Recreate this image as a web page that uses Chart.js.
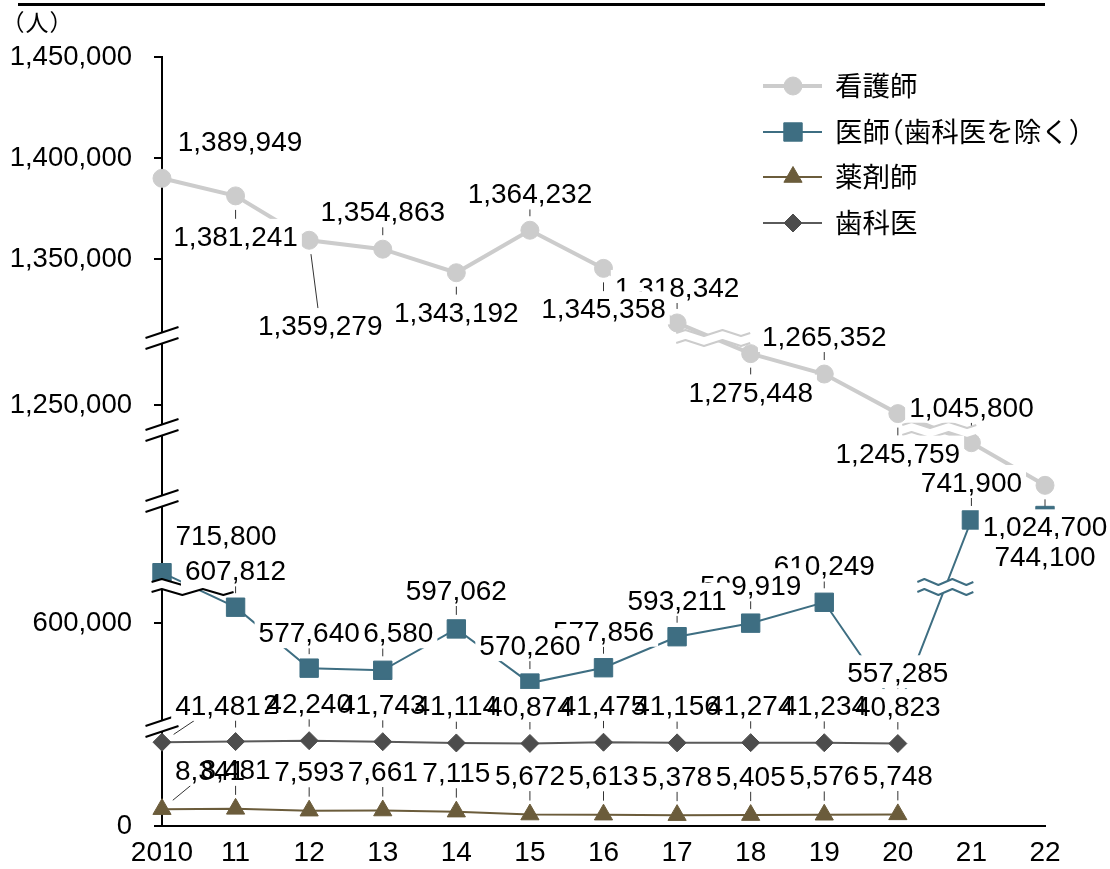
<!DOCTYPE html>
<html lang="ja">
<head>
<meta charset="utf-8">
<title>看護師・医師・薬剤師・歯科医の推移</title>
<script src="https://cdn.jsdelivr.net/npm/chart.js@4.4.1/dist/chart.umd.min.js"></script>
<style>
  html, body { margin: 0; padding: 0; background: #ffffff; }
  #frame { position: relative; width: 1110px; height: 869px; }
  canvas { display: block; }
</style>
</head>
<body>
<div id="frame"><canvas id="chart" width="1110" height="869"></canvas></div>
<script>
// ---------- data ----------
const years = ['2010', '11', '12', '13', '14', '15', '16', '17', '18', '19', '20', '21', '22'];
const seriesNames = ['看護師', '医師（歯科医を除く）', '薬剤師', '歯科医'];
const nurses      = [1389949, 1381241, 1359279, 1354863, 1343192, 1364232, 1345358, 1318342, 1275448, 1265352, 1245759, 1045800, 1024700];
const physicians  = [715800, 607812, 577640, 576580, 597062, 570260, 577856, 593211, 599919, 610249, 557285, 741900, 744100];
const pharmacists = [8341, 8481, 7593, 7661, 7115, 5672, 5613, 5378, 5405, 5576, 5748, null, null];
const dentists    = [41481, 41812, 42240, 41743, 41114, 40874, 41475, 41156, 41274, 41234, 40823, null, null];
const yTickValues = [0, 600000, 1250000, 1350000, 1400000, 1450000];

// value ranges kept on the broken y axis (everything between them is cut out)
const axisSegments = [
  [0, 49500],
  [549000, 617800],
  [708700, 751300],
  [1016950, 1052090],
  [1237640, 1283180],
  [1310880, 1450000]
];

// ---------- styling / layout ----------
const NUM_FONT = '"Liberation Sans", Arial, Helvetica, sans-serif';
const CJK_FONT = '"Noto Sans CJK JP", "Noto Sans CJK SC", sans-serif';
const fmt = v => v.toLocaleString('en-US');

const seriesStyle = [
  { color: '#cccccc', lineColor: '#cccccc', lineWidth: 4, pointStyle: 'circle',   radius: 9 },
  { color: '#3e6e82', lineColor: '#3e6e82', lineWidth: 2, pointStyle: 'rect',     radius: 13 },
  { color: '#6b5c3b', lineColor: '#6b5c3b', lineWidth: 2, pointStyle: 'triangle', radius: 10.5 },
  { color: '#4d4d4d', lineColor: '#5a5a5a', lineWidth: 2, pointStyle: 'rectRot',  radius: 9 }
];

function filled(n, v) { return Array.from({ length: n }, () => v); }
function withFirst(arr, v) { const a = arr.slice(); a[0] = v; return a; }

// data-label offsets (label centre relative to the point), leader-line switches,
// and how overlapping labels of one series are painted
const labelPlacement = [
  { dx: (() => { const a = filled(13, 0); a[0] = 78; a[2] = 11; return a; })(),
    dy: [-37, 40, 85, -38, 39, -37, 40, -36, 38, -38, 39, -36, 41],
    leader: withFirst(filled(13, true), false), mode: 'stacked', front: [] },
  { dx: withFirst(filled(13, 0), 64),
    dy: [-38, -37, -36, -38, -39, -38, -37, -37, -38, -37, -37, -38, 40.5],
    leader: withFirst(filled(13, true), false), mode: 'stacked', front: [] },
  { dx: withFirst(filled(13, 0), 48), dy: filled(13, -39.5),
    leader: filled(13, true), mode: 'overprint', front: [] },
  { dx: withFirst(filled(13, 0), 56), dy: filled(13, -37.5),
    leader: filled(13, true), mode: 'overprint', front: [0] }
];

// wavy cut marks drawn across lines that jump over an axis break
const lineBreaks = [
  { series: 0, from: 7,  boundary: 5, color: '#cccccc', half: 37 },
  { series: 0, from: 10, boundary: 4, color: '#cccccc', half: 37 },
  { series: 1, from: 10, boundary: 2, color: '#3e6e82', half: 28 },
  { series: 1, from: 0,  boundary: 2, color: '#000000', half: 41 }
];
// double-slash cut marks on the y axis
const axisBreaks = [1, 3, 4, 5];

const legendRows = [86, 132, 177, 223];

// ---------- broken linear scale ----------
class BrokenLinearScale extends Chart.LinearScale {
  static id = 'brokenLinear';
  static defaults = Chart.LinearScale.defaults;

  toAxisUnits(v) {
    let acc = 0;
    for (let i = 0; i < axisSegments.length; i++) {
      const [a, b] = axisSegments[i];
      if (v <= b || i === axisSegments.length - 1) return acc + Math.max(0, v - a);
      acc += b - a;
    }
    return acc;
  }
  axisLength() { return this.toAxisUnits(this.max) - this.toAxisUnits(this.min); }
  getPixelForValue(v) {
    if (v === null || v === undefined || isNaN(v)) return NaN;
    return this.getPixelForDecimal((this.toAxisUnits(v) - this.toAxisUnits(this.min)) / this.axisLength());
  }
  getValueForPixel(pixel) {
    let u = this.getDecimalForPixel(pixel) * this.axisLength() + this.toAxisUnits(this.min);
    for (const [a, b] of axisSegments) {
      if (u <= b - a) return a + u;
      u -= b - a;
    }
    return axisSegments[axisSegments.length - 1][1] + u;
  }
  getPixelForBreak(i) {
    let acc = 0;
    for (let k = 0; k < i; k++) acc += axisSegments[k][1] - axisSegments[k][0];
    return this.getPixelForDecimal(acc / this.axisLength());
  }
}
Chart.register(BrokenLinearScale);

// ---------- drawing helpers ----------
function zigzag(x0, x1, y, amp, n) {
  const pattern = [0, -1, 0, 1];
  const pts = [];
  for (let k = 0; k <= n; k++) pts.push([x0 + (x1 - x0) * k / n, y + amp * pattern[k % 4]]);
  return pts;
}

function drawLineBreak(ctx, xc, yc, half, color) {
  const up = zigzag(xc - half, xc + half, yc - 5, 3, 8);
  const lo = zigzag(xc - half, xc + half, yc + 5, 3, 8);
  ctx.save();
  ctx.beginPath();
  up.forEach(([x, y], i) => i ? ctx.lineTo(x, y) : ctx.moveTo(x, y));
  lo.slice().reverse().forEach(([x, y]) => ctx.lineTo(x, y));
  ctx.closePath();
  ctx.fillStyle = '#ffffff';
  ctx.fill();
  ctx.strokeStyle = color;
  ctx.lineWidth = 2;
  ctx.lineJoin = 'round';
  [up, lo].forEach(pts => {
    ctx.beginPath();
    pts.forEach(([x, y], i) => i ? ctx.lineTo(x, y) : ctx.moveTo(x, y));
    ctx.stroke();
  });
  ctx.restore();
}

function drawAxisSlash(ctx, x, yc) {
  const half = 16.5, tilt = 5.5, gap = 5.5;
  ctx.save();
  ctx.beginPath();
  ctx.moveTo(x - half, yc - gap + tilt);
  ctx.lineTo(x + half, yc - gap - tilt);
  ctx.lineTo(x + half, yc + gap - tilt);
  ctx.lineTo(x - half, yc + gap + tilt);
  ctx.closePath();
  ctx.fillStyle = '#ffffff';
  ctx.fill();
  ctx.strokeStyle = '#000000';
  ctx.lineWidth = 2;
  [-gap, gap].forEach(off => {
    ctx.beginPath();
    ctx.moveTo(x - half, yc + off + tilt);
    ctx.lineTo(x + half, yc + off - tilt);
    ctx.stroke();
  });
  ctx.restore();
}

function collectLabels(chart) {
  const ctx = chart.ctx;
  ctx.save();
  ctx.font = '28px ' + NUM_FONT;
  const out = [];
  chart.data.datasets.forEach((ds, si) => {
    const meta = chart.getDatasetMeta(si);
    const place = labelPlacement[si];
    ds.data.forEach((v, j) => {
      if (v === null || v === undefined) return;
      const pt = meta.data[j];
      const text = fmt(v);
      const w = ctx.measureText(text).width;
      const cx = pt.x + place.dx[j];
      const cy = pt.y + place.dy[j];
      out.push({
        si, j, text, cx, cy, px: pt.x, py: pt.y, leader: place.leader[j],
        box: { l: cx - w / 2 - 4, r: cx + w / 2 + 4, t: cy - 17, b: cy + 16 }
      });
    });
  });
  ctx.restore();
  return out;
}

function drawLeader(ctx, lab) {
  const dx = lab.cx - lab.px, dy = lab.cy - lab.py;
  const len = Math.hypot(dx, dy);
  if (!len) return;
  const b = lab.box;
  const tx = dx > 0 ? (b.l - lab.px) / dx : dx < 0 ? (b.r - lab.px) / dx : -Infinity;
  const ty = dy > 0 ? (b.t - lab.py) / dy : dy < 0 ? (b.b - lab.py) / dy : -Infinity;
  const tEnter = Math.max(tx, ty, 0);
  const tStart = 14 / len;
  if (tEnter <= tStart) return;
  ctx.beginPath();
  ctx.moveTo(lab.px + dx * tStart, lab.py + dy * tStart);
  ctx.lineTo(lab.px + dx * tEnter, lab.py + dy * tEnter);
  ctx.stroke();
}

function paintBox(ctx, l) {
  ctx.fillStyle = '#ffffff';
  ctx.fillRect(l.box.l, l.box.t, l.box.r - l.box.l, l.box.b - l.box.t);
}
function paintText(ctx, l) {
  ctx.fillStyle = '#000000';
  ctx.fillText(l.text, l.cx, l.cy + 10);
}

function drawLegendText(ctx, text, x, y, size) {
  let cx = x;
  for (const ch of text) {
    if (ch === '（') { ctx.fillText(ch, cx - size * 0.5, y); cx += size * 0.5; }
    else if (ch === '）') { ctx.fillText(ch, cx, y); cx += size * 0.5; }
    else { ctx.fillText(ch, cx, y); cx += ctx.measureText(ch).width; }
  }
}

const decorations = {
  id: 'decorations',
  beforeDatasetsDraw(chart) {
    const ctx = chart.ctx;
    ctx.save();
    ctx.strokeStyle = '#333333';
    ctx.lineWidth = 1;
    collectLabels(chart).filter(l => l.leader).forEach(l => drawLeader(ctx, l));
    ctx.restore();
  },
  afterDatasetsDraw(chart) {
    const ctx = chart.ctx;
    const yScale = chart.scales.y;
    const xAxis = chart.chartArea.left;

    // cut marks on the lines
    lineBreaks.forEach(br => {
      const meta = chart.getDatasetMeta(br.series);
      const p0 = meta.data[br.from], p1 = meta.data[br.from + 1];
      const yb = yScale.getPixelForBreak(br.boundary);
      const xc = p0.x + (yb - p0.y) / (p1.y - p0.y) * (p1.x - p0.x);
      drawLineBreak(ctx, xc, yb, br.half, br.color);
    });
    // cut marks on the axis
    axisBreaks.forEach(i => drawAxisSlash(ctx, xAxis, yScale.getPixelForBreak(i)));

    // data labels on white boxes
    const labels = collectLabels(chart);
    ctx.save();
    ctx.font = '28px ' + NUM_FONT;
    ctx.textAlign = 'center';
    ctx.textBaseline = 'alphabetic';
    for (let si = 0; si < chart.data.datasets.length; si++) {
      const place = labelPlacement[si];
      const own = labels.filter(l => l.si === si).sort((a, b) => b.j - a.j);
      const back = own.filter(l => !place.front.includes(l.j));
      const front = own.filter(l => place.front.includes(l.j));
      if (place.mode === 'overprint') {
        back.forEach(l => paintBox(ctx, l));
        back.forEach(l => paintText(ctx, l));
      } else {
        back.forEach(l => { paintBox(ctx, l); paintText(ctx, l); });
      }
      front.forEach(l => { paintBox(ctx, l); paintText(ctx, l); });
    }
    ctx.restore();
  },
  afterDraw(chart) {
    const ctx = chart.ctx;
    ctx.save();
    // top rule and unit
    ctx.fillStyle = '#000000';
    ctx.fillRect(18, 3, 1027, 3);
    ctx.font = '23px ' + CJK_FONT;
    ctx.textAlign = 'left';
    ctx.textBaseline = 'alphabetic';
    ctx.fillText('（', 1.5, 31);
    ctx.fillText('人', 25.5, 31);
    ctx.fillText('）', 49.5, 31);

    // legend
    const size = 27.5;
    ctx.font = size + 'px ' + CJK_FONT;
    ctx.textBaseline = 'middle';
    chart.data.datasets.forEach((ds, i) => {
      const s = seriesStyle[i];
      const y = legendRows[i];
      ctx.strokeStyle = s.lineColor;
      ctx.lineWidth = s.lineWidth;
      ctx.beginPath();
      ctx.moveTo(763, y);
      ctx.lineTo(822, y);
      ctx.stroke();
      ctx.fillStyle = s.color;
      ctx.strokeStyle = s.color;
      ctx.lineWidth = 1;
      Chart.helpers.drawPoint(ctx, { pointStyle: s.pointStyle, radius: s.radius, borderWidth: 1, rotation: 0 }, 793, y);
      ctx.fillStyle = '#000000';
      drawLegendText(ctx, ds.label, 835, y, size);
    });
    ctx.restore();
  }
};

// ---------- chart ----------
const seriesData = [nurses, physicians, pharmacists, dentists];
const datasets = seriesData.map((d, i) => {
  const s = seriesStyle[i];
  return {
    label: seriesNames[i],
    data: d,
    borderColor: s.lineColor,
    borderWidth: s.lineWidth,
    pointStyle: s.pointStyle,
    pointRadius: s.radius,
    pointBackgroundColor: s.color,
    pointBorderColor: s.color,
    pointBorderWidth: 1,
    tension: 0,
    clip: false,
    spanGaps: false
  };
});

new Chart(document.getElementById('chart'), {
  type: 'line',
  data: { labels: years, datasets },
  options: {
    responsive: false,
    animation: false,
    devicePixelRatio: 1,
    events: [],
    layout: { padding: { top: 57, right: 65, left: 0, bottom: 0 } },
    plugins: { legend: { display: false }, tooltip: { enabled: false } },
    scales: {
      x: {
        type: 'category',
        offset: false,
        grid: { display: false, drawTicks: false },
        border: { display: true, color: '#000000', width: 2 },
        ticks: { color: '#000000', font: { family: NUM_FONT, size: 28 }, padding: 10, maxRotation: 0, autoSkip: false },
        afterFit: s => { s.height = 43; }
      },
      y: {
        type: 'brokenLinear',
        min: 0,
        max: 1450000,
        bounds: 'data',
        afterBuildTicks: s => { s.ticks = yTickValues.map(v => ({ value: v })); },
        ticks: { autoSkip: false, color: '#000000', font: { family: NUM_FONT, size: 27.5 }, padding: 22, callback: v => fmt(v) },
        grid: { drawOnChartArea: false, drawTicks: true, tickLength: 8, color: '#000000', lineWidth: 2 },
        border: { display: true, color: '#000000', width: 2 },
        afterFit: s => { s.width = 162; }
      }
    }
  },
  plugins: [decorations]
});
</script>
</body>
</html>
